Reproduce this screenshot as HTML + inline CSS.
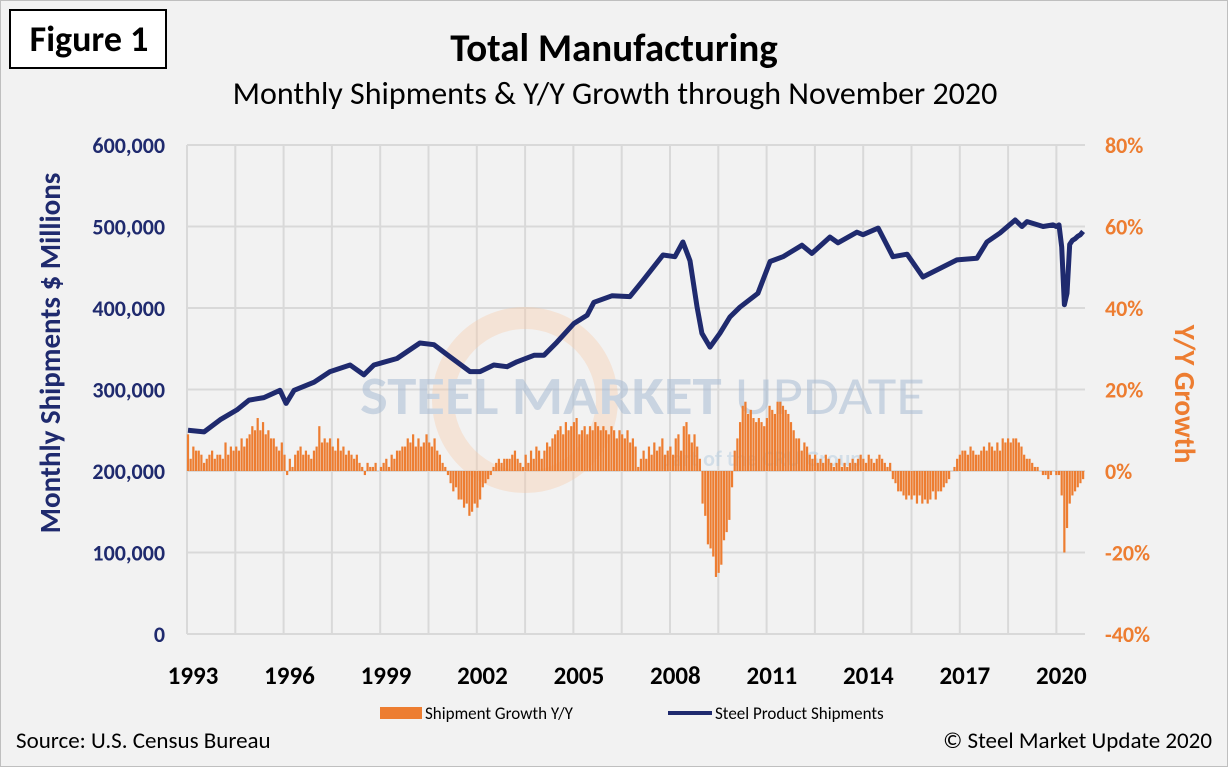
<!DOCTYPE html>
<html><head><meta charset="utf-8"><style>
body{margin:0;background:#fff;font-family:"Liberation Sans",sans-serif}
svg text{font-family:"Carlito","Liberation Sans",sans-serif}
</style></head><body>
<svg width="1228" height="767" viewBox="0 0 1228 767" xmlns="http://www.w3.org/2000/svg">
<rect x="0.5" y="0.5" width="1227" height="766" fill="#f2f2f2" stroke="#bfbfbf"/>
<g><rect x="10" y="10" width="156" height="58" fill="#fff" stroke="#000" stroke-width="2"/>
<text x="89" y="51" text-anchor="middle" font-size="36" font-weight="bold">Figure 1</text></g>
<text x="614" y="61" text-anchor="middle" font-size="39" font-weight="bold">Total Manufacturing</text>
<text x="615" y="104" text-anchor="middle" font-size="32">Monthly Shipments &amp; Y/Y Growth through November 2020</text>
<g id="grid"></g>
<g opacity="0.55">
<circle cx="525" cy="400" r="82" fill="none" stroke="#f5c9a8" stroke-width="22" opacity="0.7"/>
<text x="360" y="414" font-size="54" font-weight="bold" fill="#a9bcd4" textLength="565" lengthAdjust="spacingAndGlyphs">STEEL MARKET <tspan font-weight="normal">UPDATE</tspan></text>
<text x="660" y="466" font-size="22" font-weight="bold" fill="#b9cfe0">part of the <tspan fill="#9fd0e8">CRU</tspan> Group</text>
</g>
<g id="bars"></g>
<path id="line" fill="none" stroke="#1f2a6e" stroke-width="5" stroke-linejoin="round"/>
<g id="axes"></g>
<text transform="translate(60,353) rotate(-90)" text-anchor="middle" font-size="29" font-weight="bold" fill="#1f2a6e">Monthly Shipments $ Millions</text>
<text transform="translate(1175,394) rotate(90)" text-anchor="middle" font-size="29" font-weight="bold" fill="#ed7d31">Y/Y Growth</text>
<g>
<g><rect x="380" y="707" width="42" height="12" fill="#ed7d31"/><text x="425" y="719" font-size="17">Shipment Growth Y/Y</text></g>
<g><line x1="668" y1="713" x2="712" y2="713" stroke="#1f2a6e" stroke-width="4"/><text x="715" y="719" font-size="17">Steel Product Shipments</text></g>
</g>
<text x="16" y="748" font-size="23">Source: U.S. Census Bureau</text>
<text x="1212" y="748" text-anchor="end" font-size="23">© Steel Market Update 2020</text>
</svg>
<script>
const yearLabels=[1993,1996,1999,2002,2005,2008,2011,2014,2017,2020];
const leftTicks=[0,100000,200000,300000,400000,500000,600000];
const rightTicks=[-40,-20,0,20,40,60,80];
const growth=[
9,3,6,5,5,4,2,3,4,5,3,4, 4,3,7,4,6,5,6,5,8,6,8,9, 11,10,13,10,12,9,10,8,8,6,5,7,
4,-1,3,1,4,5,6,4,5,4,3,5, 6,11,7,8,7,8,6,5,8,5,6,4, 5,4,3,4,2,1,-1,2,1,1,2,0,
1,2,3,1,4,3,5,5,6,6,8,7, 9,6,8,6,7,9,7,6,8,5,4,2, 1,-1,-3,-5,-4,-7,-7,-9,-8,-11,-10,-8,
-9,-7,-4,-3,-2,-1,1,2,3,2,3,3, 3,4,5,3,2,1,4,2,5,3,6,5, 3,5,7,6,8,9,10,11,9,12,10,11,
12,13,9,10,11,9,11,10,12,11,10,11, 10,9,11,10,8,10,9,8,10,7,8,6, 1,3,5,3,6,4,7,5,6,8,4,5,
6,4,8,9,5,11,12,9,7,9,6,3, -8,-11,-18,-19,-21,-26,-25,-23,-17,-15,-12,-4,
5,8,12,16,17,14,15,13,12,13,12,11, 13,16,15,14,17,17,16,15,14,12,10,8,
8,5,7,6,4,3,4,2,3,2,4,3, 2,1,2,3,1,2,1,2,3,2,3,4, 3,2,4,3,2,3,4,3,2,1,2,-2,
-3,-5,-5,-6,-7,-6,-7,-6,-8,-6,-8,-7, -8,-7,-5,-7,-5,-5,-4,-3,-2,0,1,3,
4,5,5,4,6,5,4,4,5,6,5,7, 6,5,7,5,8,7,8,7,8,8,7,6, 4,3,3,2,1,1,0,-1,-1,-2,-1,0,
-1,-1,-6,-20,-14,-8,-6,-5,-4,-3,-2];
const lineDates=[1993.0,1993.5,1994.0,1994.52,1994.9,1995.36,1995.86,1996.05,1996.3,1996.92,1997.42,1998.04,1998.47,1998.78,1999.5,2000.21,2000.65,2001.15,2001.77,2002.08,2002.51,2002.92,2003.23,2003.76,2004.07,2004.47,2005.0,2005.41,2005.62,2006.18,2006.74,2007.15,2007.77,2008.14,2008.39,2008.61,2008.83,2008.98,2009.23,2009.54,2009.85,2010.16,2010.72,2011.1,2011.5,2012.09,2012.4,2012.96,2013.21,2013.8,2013.99,2014.46,2014.92,2015.36,2015.85,2016.91,2017.53,2017.84,2018.25,2018.72,2018.93,2019.09,2019.59,2019.9,2020.0,2020.083,2020.167,2020.25,2020.333,2020.417,2020.5,2020.583,2020.667,2020.75,2020.833];
const lineValues=[250,248,263,275,287,290,299,283,299,309,322,330,318,330,338,357,355,340,322,322,330,328,334,342,342,358,381,391,407,415,414,434,465,463,481,458,401,369,352,369,389,401,418,457,463,477,467,487,480,493,490,498,463,466,438,459,461,481,492,508,500,506,500,502,500,502,475,404,418,478,483,485,488,490,494];
</script>
<script>
const NS="http://www.w3.org/2000/svg";
const X0=188,PXM=2.68,Y0=634,TOP=145;
const xm=i=>X0+i*PXM;
const xd=d=>X0+(d-1993)*12*PXM;
const yl=v=>Y0-(v/600000)*(Y0-TOP);
const yr=p=>Y0-((p+40)/120)*(Y0-TOP);
const grid=document.getElementById('grid');
for(const t of leftTicks){const l=document.createElementNS(NS,'line');


l.setAttribute('x1',187);l.setAttribute('x2',1085);l.setAttribute('y1',yl(t));l.setAttribute('y2',yl(t));
l.setAttribute('stroke','#d9d9d9');l.setAttribute('stroke-width',2);grid.appendChild(l);}
for(let x=187;x<=1086;x+=48.3){const l=document.createElementNS(NS,'line');


l.setAttribute('x1',x);l.setAttribute('x2',x);l.setAttribute('y1',TOP);l.setAttribute('y2',Y0);
l.setAttribute('stroke','#d9d9d9');l.setAttribute('stroke-width',2);grid.appendChild(l);}
const bars=document.getElementById('bars');
growth.forEach((g,i)=>{const r=document.createElementNS(NS,'rect');


const y0=yr(0),y1=yr(g);
r.setAttribute('x',xm(i)-1.1);r.setAttribute('width',2.2);
r.setAttribute('y',Math.min(y0,y1));r.setAttribute('height',Math.abs(y1-y0));
r.setAttribute('fill','#ed7d31');bars.appendChild(r);});
const n=Math.min(lineDates.length,lineValues.length);
let d='';for(let i=0;i<n;i++){d+=(i?'L':'M')+xd(lineDates[i]).toFixed(1)+','+yl(lineValues[i]*1000).toFixed(1);}
document.getElementById('line').setAttribute('d',d);
const axes=document.getElementById('axes');
function txt(x,y,s,anchor,fill,name,size){const t=document.createElementNS(NS,'text');


t.setAttribute('x',x);t.setAttribute('y',y);t.setAttribute('text-anchor',anchor);
t.setAttribute('font-size',size);t.setAttribute('font-weight','bold');t.setAttribute('fill',fill);
t.textContent=s;axes.appendChild(t);}
leftTicks.forEach(t=>txt(165,yl(t)+8,t.toLocaleString('en-US'),'end','#1f2a6e','left-tick-label',22));
rightTicks.forEach(p=>txt(1105,yr(p)+8,p+'%','start','#ed7d31','right-tick-label',22));
yearLabels.forEach(y=>txt(xd(y)+5,684,String(y),'middle','#000','x-tick-label',25));
</script>
</body></html>
